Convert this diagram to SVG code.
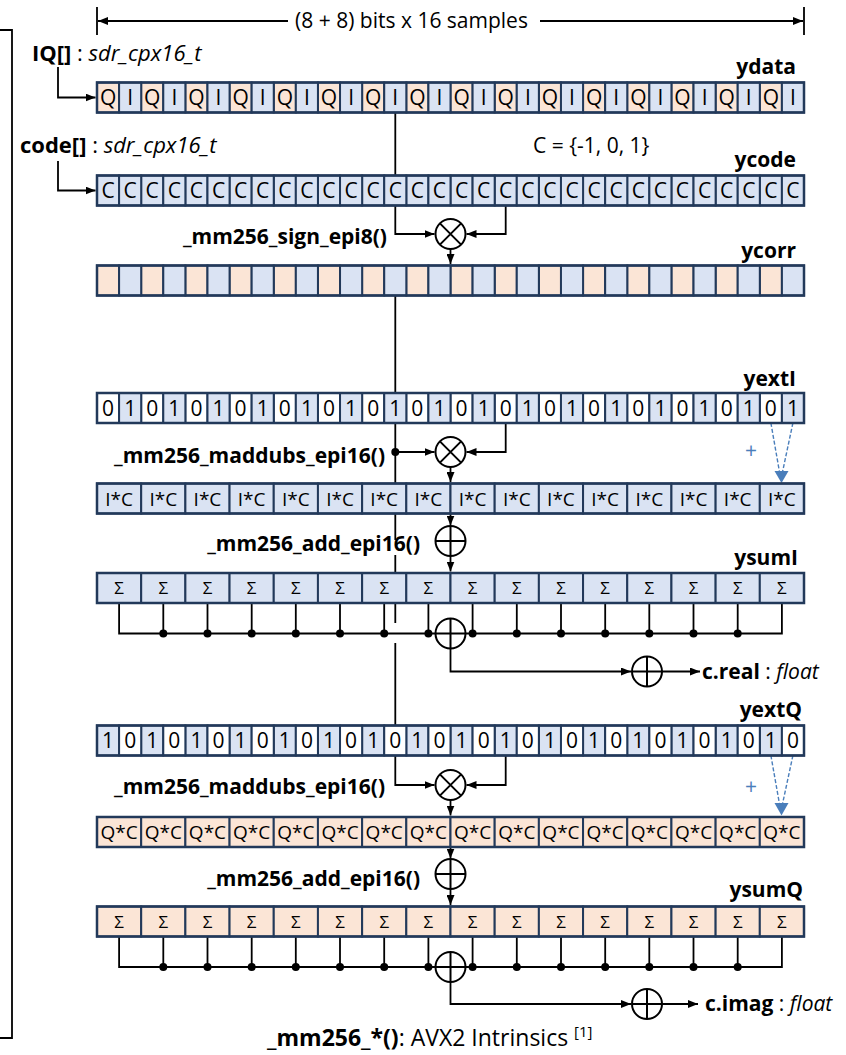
<svg xmlns="http://www.w3.org/2000/svg" xmlns:xlink="http://www.w3.org/1999/xlink" width="846" height="1055" viewBox="0 0 846 1055">
<style>
text{font-family:"Open Sans","Liberation Sans",sans-serif;fill:#000}
.t{font-size:21px}
.c{font-size:21px;text-anchor:middle}
.p{font-size:19px;text-anchor:middle}
.s{font-size:17px;text-anchor:middle}
.lb{font-size:21px;font-weight:bold}
.lg{font-size:22px}
.ft{font-size:23px}
.r{text-anchor:end}
.it{font-style:italic;font-weight:normal}
.n{font-weight:normal}
.cell rect{stroke:#22395A;stroke-width:2}
.frame{fill:none;stroke:#22395A;stroke-width:2.5}
.b{fill:#DAE3F3}
.o{fill:#FBE5D6}
.w{fill:#FFFFFF}
.ln{fill:none;stroke:#000;stroke-width:1.8}
.ar{marker-end:url(#ah)}
.bl{fill:none;stroke:#4A7EBB;stroke-width:1.4;stroke-dasharray:4 2}
.dot{fill:#000}
.op circle{fill:#fff;stroke:#000;stroke-width:2}
.op path{stroke:#000;stroke-width:2;fill:none}
</style>
<defs>
<marker id="ah" viewBox="0 0 10 8" refX="10" refY="4" markerWidth="10" markerHeight="8" markerUnits="userSpaceOnUse" orient="auto"><path d="M0,0 L10,4 L0,8 z" fill="#000"/></marker>
<g id="e32" class="cell">
<rect x="97" y="0" width="22.09" height="30"/><rect x="141.19" y="0" width="22.09" height="30"/><rect x="185.38" y="0" width="22.09" height="30"/><rect x="229.56" y="0" width="22.09" height="30"/><rect x="273.75" y="0" width="22.09" height="30"/><rect x="317.94" y="0" width="22.09" height="30"/><rect x="362.13" y="0" width="22.09" height="30"/><rect x="406.31" y="0" width="22.09" height="30"/><rect x="450.5" y="0" width="22.09" height="30"/><rect x="494.69" y="0" width="22.09" height="30"/><rect x="538.88" y="0" width="22.09" height="30"/><rect x="583.06" y="0" width="22.09" height="30"/><rect x="627.25" y="0" width="22.09" height="30"/><rect x="671.44" y="0" width="22.09" height="30"/><rect x="715.63" y="0" width="22.09" height="30"/><rect x="759.81" y="0" width="22.09" height="30"/>
</g>
<g id="o32" class="cell">
<rect x="119.09" y="0" width="22.09" height="30"/><rect x="163.28" y="0" width="22.09" height="30"/><rect x="207.47" y="0" width="22.09" height="30"/><rect x="251.66" y="0" width="22.09" height="30"/><rect x="295.84" y="0" width="22.09" height="30"/><rect x="340.03" y="0" width="22.09" height="30"/><rect x="384.22" y="0" width="22.09" height="30"/><rect x="428.41" y="0" width="22.09" height="30"/><rect x="472.59" y="0" width="22.09" height="30"/><rect x="516.78" y="0" width="22.09" height="30"/><rect x="560.97" y="0" width="22.09" height="30"/><rect x="605.16" y="0" width="22.09" height="30"/><rect x="649.34" y="0" width="22.09" height="30"/><rect x="693.53" y="0" width="22.09" height="30"/><rect x="737.72" y="0" width="22.09" height="30"/><rect x="781.91" y="0" width="22.09" height="30"/>
</g>
<g id="r16" class="cell">
<rect x="97" y="0" width="44.19" height="30"/><rect x="141.19" y="0" width="44.19" height="30"/><rect x="185.38" y="0" width="44.19" height="30"/><rect x="229.56" y="0" width="44.19" height="30"/><rect x="273.75" y="0" width="44.19" height="30"/><rect x="317.94" y="0" width="44.19" height="30"/><rect x="362.13" y="0" width="44.19" height="30"/><rect x="406.31" y="0" width="44.19" height="30"/><rect x="450.5" y="0" width="44.19" height="30"/><rect x="494.69" y="0" width="44.19" height="30"/><rect x="538.88" y="0" width="44.19" height="30"/><rect x="583.06" y="0" width="44.19" height="30"/><rect x="627.25" y="0" width="44.19" height="30"/><rect x="671.44" y="0" width="44.19" height="30"/><rect x="715.63" y="0" width="44.19" height="30"/><rect x="759.81" y="0" width="44.19" height="30"/>
</g>
<g id="mul" class="op"><circle r="15"/><path d="M-10.6,-10.6 L10.6,10.6 M10.6,-10.6 L-10.6,10.6"/></g>
<g id="add" class="op"><circle r="15"/><path d="M-15,0 H15 M0,-15 V15"/></g>
</defs>

<g id="connectors">
<path class="ln" d="M0,30 H12 V1038 H0"/>
<path class="ln" d="M97,7 V35 M804,7 V35"/>
<path class="ln ar" d="M288,21 H98"/>
<path class="ln ar" d="M540,21 H803"/>
<path class="ln ar" d="M58,67 V97.5 H95.5"/>
<path class="ln ar" d="M58,161 V190.5 H95.5"/>
<path class="ln ar" d="M395.3,112.5 V234 H434.5"/>
<path class="ln ar" d="M505.7,205.5 V234 H466.5"/>
<path class="ln ar" d="M450.5,249 V264"/>
<path class="ln" d="M395.3,295.5 V540 M395.3,555 V623 M395.3,643 V700"/>
<path class="ln ar" d="M395.3,700 V785 H434.5"/>
<path class="ln ar" d="M395.3,452 H434.5"/>
<path class="ln ar" d="M505.7,423 V452 H466.5"/>
<path class="ln ar" d="M450.5,467 V482"/>
<path class="ln ar" d="M450.5,513.5 V525.5"/>
<path class="ln ar" d="M450.5,556 V571.5"/>
<path class="ln" d="M119.1,603 V633.5 H781.9 V603 M163.3,603 V633.5 M207.5,603 V633.5 M251.7,603 V633.5 M295.8,603 V633.5 M340,603 V633.5 M384.2,603 V633.5 M428.4,603 V633.5 M472.6,603 V633.5 M516.8,603 V633.5 M561,603 V633.5 M605.2,603 V633.5 M649.3,603 V633.5 M693.5,603 V633.5 M737.7,603 V633.5"/>
<path class="ln ar" d="M450.5,648.5 V671.5 H631"/>
<path class="ln ar" d="M662,671.5 H700"/>
<path class="ln ar" d="M505.7,755.5 V785 H466.5"/>
<path class="ln ar" d="M450.5,800 V815.5"/>
<path class="ln ar" d="M450.5,847 V858.5"/>
<path class="ln ar" d="M450.5,889 V905"/>
<path class="ln" d="M119.1,936.5 V967 H781.9 V936.5 M163.3,936.5 V967 M207.5,936.5 V967 M251.7,936.5 V967 M295.8,936.5 V967 M340,936.5 V967 M384.2,936.5 V967 M428.4,936.5 V967 M472.6,936.5 V967 M516.8,936.5 V967 M561,936.5 V967 M605.2,936.5 V967 M649.3,936.5 V967 M693.5,936.5 V967 M737.7,936.5 V967"/>
<path class="ln ar" d="M450.5,982 V1004 H631"/>
<path class="ln ar" d="M662,1004 H698"/>
<path class="bl" d="M770.9,423 L779.5,472 M792.9,423 L782.5,472"/>
<polygon points="774.5,471 788.5,471 781.5,483" fill="#4A7EBB"/>
<path class="bl" d="M770.9,755.5 L779.5,804 M792.9,755.5 L782.5,804"/>
<polygon points="774.5,803 788.5,803 781.5,815.5" fill="#4A7EBB"/>
<g class="dot">
<circle cx="395.3" cy="452" r="4"/>
<circle cx="163.3" cy="633.5" r="4"/><circle cx="207.5" cy="633.5" r="4"/><circle cx="251.7" cy="633.5" r="4"/><circle cx="295.8" cy="633.5" r="4"/><circle cx="340" cy="633.5" r="4"/><circle cx="384.2" cy="633.5" r="4"/><circle cx="428.4" cy="633.5" r="4"/><circle cx="472.6" cy="633.5" r="4"/><circle cx="516.8" cy="633.5" r="4"/><circle cx="561" cy="633.5" r="4"/><circle cx="605.2" cy="633.5" r="4"/><circle cx="649.3" cy="633.5" r="4"/><circle cx="693.5" cy="633.5" r="4"/><circle cx="737.7" cy="633.5" r="4"/>
<circle cx="163.3" cy="967" r="4"/><circle cx="207.5" cy="967" r="4"/><circle cx="251.7" cy="967" r="4"/><circle cx="295.8" cy="967" r="4"/><circle cx="340" cy="967" r="4"/><circle cx="384.2" cy="967" r="4"/><circle cx="428.4" cy="967" r="4"/><circle cx="472.6" cy="967" r="4"/><circle cx="516.8" cy="967" r="4"/><circle cx="561" cy="967" r="4"/><circle cx="605.2" cy="967" r="4"/><circle cx="649.3" cy="967" r="4"/><circle cx="693.5" cy="967" r="4"/><circle cx="737.7" cy="967" r="4"/>
</g>
</g>

<g id="ydata" transform="translate(0,82.5)">
<use href="#e32" class="o"/><use href="#o32" class="b"/><rect class="frame" x="97" y="0" width="707" height="30"/>
<text class="c" y="22.5"><tspan x="108.05">Q</tspan><tspan x="130.14">I</tspan><tspan x="152.24">Q</tspan><tspan x="174.33">I</tspan><tspan x="196.43">Q</tspan><tspan x="218.52">I</tspan><tspan x="240.61">Q</tspan><tspan x="262.71">I</tspan><tspan x="284.8">Q</tspan><tspan x="306.89">I</tspan><tspan x="328.99">Q</tspan><tspan x="351.08">I</tspan><tspan x="373.18">Q</tspan><tspan x="395.27">I</tspan><tspan x="417.36">Q</tspan><tspan x="439.46">I</tspan><tspan x="461.55">Q</tspan><tspan x="483.64">I</tspan><tspan x="505.74">Q</tspan><tspan x="527.83">I</tspan><tspan x="549.93">Q</tspan><tspan x="572.02">I</tspan><tspan x="594.11">Q</tspan><tspan x="616.21">I</tspan><tspan x="638.3">Q</tspan><tspan x="660.39">I</tspan><tspan x="682.49">Q</tspan><tspan x="704.58">I</tspan><tspan x="726.68">Q</tspan><tspan x="748.77">I</tspan><tspan x="770.86">Q</tspan><tspan x="792.96">I</tspan></text>
</g>

<g id="ycode" transform="translate(0,175.5)">
<use href="#e32" class="b"/><use href="#o32" class="b"/><rect class="frame" x="97" y="0" width="707" height="30"/>
<text class="c" y="22.5"><tspan x="108.05">C</tspan><tspan x="130.14">C</tspan><tspan x="152.24">C</tspan><tspan x="174.33">C</tspan><tspan x="196.43">C</tspan><tspan x="218.52">C</tspan><tspan x="240.61">C</tspan><tspan x="262.71">C</tspan><tspan x="284.8">C</tspan><tspan x="306.89">C</tspan><tspan x="328.99">C</tspan><tspan x="351.08">C</tspan><tspan x="373.18">C</tspan><tspan x="395.27">C</tspan><tspan x="417.36">C</tspan><tspan x="439.46">C</tspan><tspan x="461.55">C</tspan><tspan x="483.64">C</tspan><tspan x="505.74">C</tspan><tspan x="527.83">C</tspan><tspan x="549.93">C</tspan><tspan x="572.02">C</tspan><tspan x="594.11">C</tspan><tspan x="616.21">C</tspan><tspan x="638.3">C</tspan><tspan x="660.39">C</tspan><tspan x="682.49">C</tspan><tspan x="704.58">C</tspan><tspan x="726.68">C</tspan><tspan x="748.77">C</tspan><tspan x="770.86">C</tspan><tspan x="792.96">C</tspan></text>
</g>

<g id="ycorr" transform="translate(0,265.5)">
<use href="#e32" class="o"/><use href="#o32" class="b"/><rect class="frame" x="97" y="0" width="707" height="30"/>
</g>

<g id="yextI" transform="translate(0,393)">
<use href="#e32" class="w"/><use href="#o32" class="b"/><rect class="frame" x="97" y="0" width="707" height="30"/>
<text class="c" y="22.5"><tspan x="108.05">0</tspan><tspan x="130.14">1</tspan><tspan x="152.24">0</tspan><tspan x="174.33">1</tspan><tspan x="196.43">0</tspan><tspan x="218.52">1</tspan><tspan x="240.61">0</tspan><tspan x="262.71">1</tspan><tspan x="284.8">0</tspan><tspan x="306.89">1</tspan><tspan x="328.99">0</tspan><tspan x="351.08">1</tspan><tspan x="373.18">0</tspan><tspan x="395.27">1</tspan><tspan x="417.36">0</tspan><tspan x="439.46">1</tspan><tspan x="461.55">0</tspan><tspan x="483.64">1</tspan><tspan x="505.74">0</tspan><tspan x="527.83">1</tspan><tspan x="549.93">0</tspan><tspan x="572.02">1</tspan><tspan x="594.11">0</tspan><tspan x="616.21">1</tspan><tspan x="638.3">0</tspan><tspan x="660.39">1</tspan><tspan x="682.49">0</tspan><tspan x="704.58">1</tspan><tspan x="726.68">0</tspan><tspan x="748.77">1</tspan><tspan x="770.86">0</tspan><tspan x="792.96">1</tspan></text>
</g>

<g id="prodI" transform="translate(0,483.5)">
<use href="#r16" class="b"/><rect class="frame" x="97" y="0" width="707" height="30"/>
<text class="p" y="22"><tspan x="119.09">I*C</tspan><tspan x="163.28">I*C</tspan><tspan x="207.47">I*C</tspan><tspan x="251.66">I*C</tspan><tspan x="295.84">I*C</tspan><tspan x="340.03">I*C</tspan><tspan x="384.22">I*C</tspan><tspan x="428.41">I*C</tspan><tspan x="472.59">I*C</tspan><tspan x="516.78">I*C</tspan><tspan x="560.97">I*C</tspan><tspan x="605.16">I*C</tspan><tspan x="649.34">I*C</tspan><tspan x="693.53">I*C</tspan><tspan x="737.72">I*C</tspan><tspan x="781.91">I*C</tspan></text>
</g>

<g id="ysumI" transform="translate(0,573)">
<use href="#r16" class="b"/><rect class="frame" x="97" y="0" width="707" height="30"/>
<text class="s" y="21"><tspan x="119.09">Σ</tspan><tspan x="163.28">Σ</tspan><tspan x="207.47">Σ</tspan><tspan x="251.66">Σ</tspan><tspan x="295.84">Σ</tspan><tspan x="340.03">Σ</tspan><tspan x="384.22">Σ</tspan><tspan x="428.41">Σ</tspan><tspan x="472.59">Σ</tspan><tspan x="516.78">Σ</tspan><tspan x="560.97">Σ</tspan><tspan x="605.16">Σ</tspan><tspan x="649.34">Σ</tspan><tspan x="693.53">Σ</tspan><tspan x="737.72">Σ</tspan><tspan x="781.91">Σ</tspan></text>
</g>

<g id="yextQ" transform="translate(0,725.5)">
<use href="#e32" class="b"/><use href="#o32" class="w"/><rect class="frame" x="97" y="0" width="707" height="30"/>
<text class="c" y="22.5"><tspan x="108.05">1</tspan><tspan x="130.14">0</tspan><tspan x="152.24">1</tspan><tspan x="174.33">0</tspan><tspan x="196.43">1</tspan><tspan x="218.52">0</tspan><tspan x="240.61">1</tspan><tspan x="262.71">0</tspan><tspan x="284.8">1</tspan><tspan x="306.89">0</tspan><tspan x="328.99">1</tspan><tspan x="351.08">0</tspan><tspan x="373.18">1</tspan><tspan x="395.27">0</tspan><tspan x="417.36">1</tspan><tspan x="439.46">0</tspan><tspan x="461.55">1</tspan><tspan x="483.64">0</tspan><tspan x="505.74">1</tspan><tspan x="527.83">0</tspan><tspan x="549.93">1</tspan><tspan x="572.02">0</tspan><tspan x="594.11">1</tspan><tspan x="616.21">0</tspan><tspan x="638.3">1</tspan><tspan x="660.39">0</tspan><tspan x="682.49">1</tspan><tspan x="704.58">0</tspan><tspan x="726.68">1</tspan><tspan x="748.77">0</tspan><tspan x="770.86">1</tspan><tspan x="792.96">0</tspan></text>
</g>

<g id="prodQ" transform="translate(0,817)">
<use href="#r16" class="o"/><rect class="frame" x="97" y="0" width="707" height="30"/>
<text class="p" y="22"><tspan x="119.09">Q*C</tspan><tspan x="163.28">Q*C</tspan><tspan x="207.47">Q*C</tspan><tspan x="251.66">Q*C</tspan><tspan x="295.84">Q*C</tspan><tspan x="340.03">Q*C</tspan><tspan x="384.22">Q*C</tspan><tspan x="428.41">Q*C</tspan><tspan x="472.59">Q*C</tspan><tspan x="516.78">Q*C</tspan><tspan x="560.97">Q*C</tspan><tspan x="605.16">Q*C</tspan><tspan x="649.34">Q*C</tspan><tspan x="693.53">Q*C</tspan><tspan x="737.72">Q*C</tspan><tspan x="781.91">Q*C</tspan></text>
</g>

<g id="ysumQ" transform="translate(0,906.5)">
<use href="#r16" class="o"/><rect class="frame" x="97" y="0" width="707" height="30"/>
<text class="s" y="21"><tspan x="119.09">Σ</tspan><tspan x="163.28">Σ</tspan><tspan x="207.47">Σ</tspan><tspan x="251.66">Σ</tspan><tspan x="295.84">Σ</tspan><tspan x="340.03">Σ</tspan><tspan x="384.22">Σ</tspan><tspan x="428.41">Σ</tspan><tspan x="472.59">Σ</tspan><tspan x="516.78">Σ</tspan><tspan x="560.97">Σ</tspan><tspan x="605.16">Σ</tspan><tspan x="649.34">Σ</tspan><tspan x="693.53">Σ</tspan><tspan x="737.72">Σ</tspan><tspan x="781.91">Σ</tspan></text>
</g>

<g id="op-sign"><use href="#mul" x="450.5" y="234"/></g>
<g id="op-mulI"><use href="#mul" x="450.5" y="452"/></g>
<g id="op-addI"><use href="#add" x="450.5" y="541"/></g>
<g id="op-busI"><use href="#add" x="450.5" y="633.5"/></g>
<g id="op-outI"><use href="#add" x="647" y="671.5"/></g>
<g id="op-mulQ"><use href="#mul" x="450.5" y="785"/></g>
<g id="op-addQ"><use href="#add" x="450.5" y="874"/></g>
<g id="op-busQ"><use href="#add" x="450.5" y="967"/></g>
<g id="op-outQ"><use href="#add" x="647" y="1004"/></g>

<g id="labels">
<text class="t" x="411.5" y="28" text-anchor="middle">(8 + 8) bits x 16 samples</text>
<text class="lb lg" x="32" y="61">IQ[]<tspan class="n"> : </tspan><tspan class="it">sdr_cpx16_t</tspan></text>
<text class="lb lg" x="20" y="153">code[]<tspan class="n"> : </tspan><tspan class="it">sdr_cpx16_t</tspan></text>
<text class="lb r" x="796" y="74">ydata</text>
<text class="t" x="533" y="153">C = {-1, 0, 1}</text>
<text class="lb r" x="796" y="167">ycode</text>
<text class="lb r" x="387" y="244">_mm256_sign_epi8()</text>
<text class="lb r" x="796" y="258">ycorr</text>
<text class="lb r" x="796" y="386">yextI</text>
<text class="lb r" x="385" y="463">_mm256_maddubs_epi16()</text>
<text class="t" x="751" y="458" text-anchor="middle" style="fill:#4A7EBB">+</text>
<text class="lb r" x="420" y="551">_mm256_add_epi16()</text>
<text class="lb r" x="798" y="565">ysumI</text>
<text class="lb" x="702" y="679">c.real<tspan class="n"> : </tspan><tspan class="it">float</tspan></text>
<text class="lb r" x="802" y="717">yextQ</text>
<text class="lb r" x="385" y="794">_mm256_maddubs_epi16()</text>
<text class="t" x="751" y="794" text-anchor="middle" style="fill:#4A7EBB">+</text>
<text class="lb r" x="420" y="886">_mm256_add_epi16()</text>
<text class="lb r" x="803" y="897">ysumQ</text>
<text class="lb" x="705" y="1011">c.imag<tspan class="n"> : </tspan><tspan class="it">float</tspan></text>
<text class="lb ft" x="267" y="1046">_mm256_*()<tspan class="n">: AVX2 Intrinsics </tspan><tspan class="n" style="font-size:15px" dy="-9">[1]</tspan></text>
</g>
</svg>
